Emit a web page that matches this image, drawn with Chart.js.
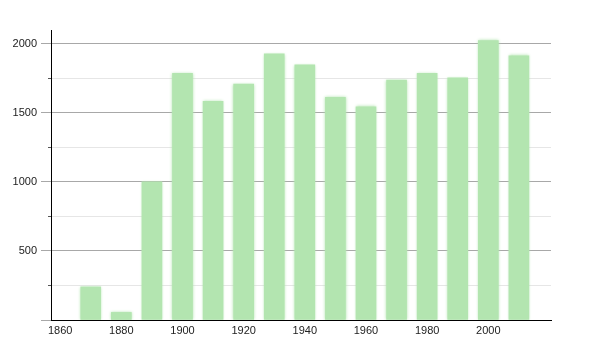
<!DOCTYPE html>
<html>
  <head>
    <title></title>
    <meta charset="utf-8" />
    <script src="https://cdn.jsdelivr.net/npm/chart.js@4.4.1/dist/chart.umd.min.js"></script>
    <style>
      html, body { margin: 0; padding: 0; background: #fff; }
      #wrap { width: 600px; height: 350px; }
    </style>
  </head>
  <body>
    <div id="wrap"><canvas id="pop"></canvas></div>
    <script>
      const years = [1870, 1880, 1890, 1900, 1910, 1920, 1930, 1940, 1950, 1960, 1970, 1980, 1990, 2000, 2010];
      const population = [240, 55, 1000, 1787, 1583, 1709, 1927, 1847, 1612, 1544, 1738, 1787, 1753, 2024, 1913];

      const BAR_COLOR = "#b3e5b0";

      // soft edges on the bars, like the original
      const blurBars = {
        id: "blurBars",
        beforeDatasetsDraw(chart) {
          const ctx = chart.ctx;
          ctx.save();
          ctx.shadowColor = BAR_COLOR;
          ctx.shadowBlur = 3;
        },
        afterDatasetsDraw(chart) {
          chart.ctx.restore();
        }
      };

      // short ticks for the unlabelled 250 steps
      const minorTicks = {
        id: "minorTicks",
        afterDraw(chart) {
          const y = chart.scales.y;
          const ctx = chart.ctx;
          ctx.save();
          ctx.strokeStyle = "#555";
          ctx.lineWidth = 1;
          y.ticks.forEach(t => {
            if (t.value % 500 === 0) return;
            const py = Math.round(y.getPixelForValue(t.value)) + 0.5;
            ctx.beginPath();
            ctx.moveTo(y.right - 3, py);
            ctx.lineTo(y.right, py);
            ctx.stroke();
          });
          ctx.restore();
        }
      };

      const ctx = document.getElementById("pop").getContext("2d");
      new Chart(ctx, {
        type: "bar",
        data: {
          datasets: [{
            data: years.map((y, i) => ({ x: y, y: population[i] })),
            backgroundColor: BAR_COLOR,
            borderWidth: 0,
            barThickness: 20
          }]
        },
        plugins: [blurBars, minorTicks],
        options: {
          responsive: true,
          maintainAspectRatio: false,
          animation: false,
          layout: { padding: { top: 30, right: 49, bottom: 0, left: 0 } },
          plugins: {
            legend: { display: false },
            tooltip: { enabled: false }
          },
          scales: {
            x: {
              type: "linear",
              offset: false,
              min: 1857,
              max: 2020.5,
              grid: { display: false, drawTicks: false },
              border: { display: true, color: "#000", width: 1 },
              ticks: {
                stepSize: 20,
                includeBounds: false,
                padding: 4,
                color: "#222",
                font: { family: "Liberation Sans", size: 11 },
                maxRotation: 0,
                callback: v => (v <= 2000 ? String(v) : "")
              },
              afterFit: s => { s.height = 30; }
            },
            y: {
              min: 0,
              max: 2100,
              grid: {
                color: c => (c.tick && c.tick.value % 500 === 0 ? "#a8a8a8" : "#e6e6e6"),
                tickColor: c => (c.tick && c.tick.value % 500 === 0 ? "#a8a8a8" : "rgba(0,0,0,0)"),
                tickLength: 10,
                lineWidth: 1
              },
              border: { display: true, color: "#000", width: 1 },
              ticks: {
                stepSize: 250,
                includeBounds: false,
                padding: 4,
                color: "#222",
                font: { family: "Liberation Sans", size: 11 },
                callback: v => (v > 0 && v % 500 === 0 ? String(v) : "")
              },
              afterFit: s => { s.width = 51; }
            }
          }
        }
      });
    </script>
  </body>
</html>
